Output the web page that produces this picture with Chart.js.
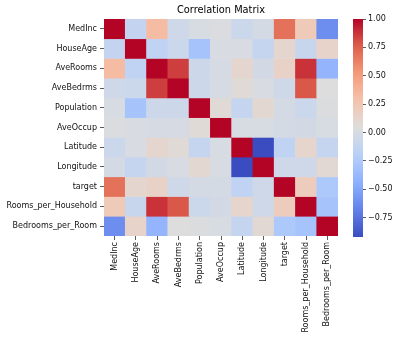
<!DOCTYPE html>
<html>
<head>
<meta charset="utf-8">
<script src="https://cdn.jsdelivr.net/npm/chart.js@4.4.0/dist/chart.umd.min.js"></script>
<style>
    body { margin: 0; background: #fff; font-family: "DejaVu Sans", sans-serif; }
    #wrap { position: relative; width: 400px; height: 341px; overflow: hidden; }
    #title { position: absolute; left: 104px; width: 234px; top: 4px; text-align: center; font-size: 9.8px; line-height: 12px; color: #000; }
    #heatBox { position: absolute; left: 0; top: 0; width: 340px; height: 341px; }
    #barBox { position: absolute; left: 350px; top: 0; width: 50px; height: 341px; }
</style>
</head>
<body>
<div id="wrap">
    <div id="heatBox"><canvas id="heatChart"></canvas></div>
    <div id="barBox"><canvas id="barChart"></canvas></div>
    <div id="title">Correlation Matrix</div>
</div>
<script>
// Features (same order for rows and columns)
const features = ['MedInc', 'HouseAge', 'AveRooms', 'AveBedrms', 'Population', 'AveOccup',
    'Latitude', 'Longitude', 'target', 'Rooms_per_Household', 'Bedrooms_per_Room'];

// Correlation rows
const rowMedInc     = [1.00, -0.12, 0.33, -0.06, 0.00, 0.02, -0.08, -0.02, 0.69, 0.22, -0.62];
const rowHouseAge   = [-0.12, 1.00, -0.15, -0.08, -0.30, 0.01, 0.01, -0.11, 0.11, -0.10, 0.14];
const rowAveRooms   = [0.33, -0.15, 1.00, 0.85, -0.07, -0.01, 0.11, -0.03, 0.15, 0.88, -0.40];
const rowAveBedrms  = [-0.06, -0.08, 0.85, 1.00, -0.07, -0.01, 0.07, 0.01, -0.05, 0.78, 0.04];
const rowPopulation = [0.00, -0.30, -0.07, -0.07, 1.00, 0.07, -0.11, 0.10, -0.02, -0.08, 0.03];
const rowAveOccup   = [0.02, 0.01, -0.01, -0.01, 0.07, 1.00, 0.00, 0.00, -0.02, -0.03, 0.00];
const rowLatitude   = [-0.08, 0.01, 0.11, 0.07, -0.11, 0.00, 1.00, -0.92, -0.14, 0.12, -0.11];
const rowLongitude  = [-0.02, -0.11, -0.03, 0.01, 0.10, 0.00, -0.92, 1.00, -0.05, -0.06, 0.09];
const rowTarget     = [0.69, 0.11, 0.15, -0.05, -0.02, -0.02, -0.14, -0.05, 1.00, 0.20, -0.26];
const rowRoomsHH    = [0.22, -0.10, 0.88, 0.78, -0.08, -0.03, 0.12, -0.06, 0.20, 1.00, -0.30];
const rowBedsRoom   = [-0.62, 0.14, -0.40, 0.04, 0.03, 0.00, -0.11, 0.09, -0.26, -0.30, 1.00];

// Colorbar ticks
const cbarTicks = [-0.75, -0.50, -0.25, 0.00, 0.25, 0.50, 0.75, 1.00];

const matrix = [rowMedInc, rowHouseAge, rowAveRooms, rowAveBedrms, rowPopulation, rowAveOccup,
    rowLatitude, rowLongitude, rowTarget, rowRoomsHH, rowBedsRoom];

const VMIN = Math.min(...matrix.flat());
const VMAX = Math.max(...matrix.flat());

// coolwarm colormap anchors
const coolwarm = [
    [0.000, [59, 76, 192]],
    [0.125, [98, 130, 234]],
    [0.250, [141, 176, 254]],
    [0.375, [184, 208, 249]],
    [0.500, [221, 221, 221]],
    [0.625, [245, 196, 173]],
    [0.750, [244, 154, 123]],
    [0.875, [222, 96, 77]],
    [1.000, [180, 4, 38]]
];

function cmap(t) {
    t = Math.max(0, Math.min(1, t));
    for (let i = 1; i < coolwarm.length; i++) {
        const [t1, c1] = coolwarm[i];
        const [t0, c0] = coolwarm[i - 1];
        if (t <= t1) {
            const f = (t - t0) / (t1 - t0);
            const c = c0.map((v, k) => Math.round(v + (c1[k] - v) * f));
            return `rgb(${c[0]},${c[1]},${c[2]})`;
        }
    }
    return 'rgb(180,4,38)';
}

const colorFor = v => cmap((v - VMIN) / (VMAX - VMIN));

const tickFont = { family: 'DejaVu Sans', size: 8 };
const tickGrid = { drawOnChartArea: false, offset: false, tickLength: 4, color: '#333', lineWidth: 0.8 };

// Heatmap: one floating-bar dataset per row
const heatDatasets = matrix.map((row, r) => ({
    data: row.map(() => [r, r + 1]),
    backgroundColor: row.map(colorFor),
    borderWidth: 0,
    barPercentage: 1,
    categoryPercentage: 1,
    grouped: false
}));

new Chart(document.getElementById('heatChart').getContext('2d'), {
    type: 'bar',
    data: { labels: features, datasets: heatDatasets },
    options: {
        responsive: true,
        maintainAspectRatio: false,
        animation: false,
        layout: { padding: { top: 19, right: 2, left: 0, bottom: 0 } },
        plugins: { legend: { display: false }, tooltip: { enabled: false }, title: { display: false } },
        scales: {
            x: {
                type: 'category',
                offset: true,
                grid: tickGrid,
                border: { display: false },
                ticks: { autoSkip: false, maxRotation: 90, minRotation: 90, font: tickFont, color: '#111', padding: 2 },
                afterFit: s => { s.height = 105; }
            },
            y: {
                type: 'linear',
                min: 0,
                max: features.length,
                reverse: true,
                grid: tickGrid,
                border: { display: false },
                afterBuildTicks: axis => { axis.ticks = features.map((_, i) => ({ value: i + 0.5 })); },
                ticks: { font: tickFont, color: '#111', padding: 3, callback: (v, i) => features[i] },
                afterFit: s => { s.width = 104; }
            }
        }
    }
});

// Colorbar
new Chart(document.getElementById('barChart').getContext('2d'), {
    type: 'bar',
    data: {
        labels: [''],
        datasets: [{
            data: [[VMIN, VMAX]],
            borderWidth: 0,
            barPercentage: 1,
            categoryPercentage: 1,
            backgroundColor: context => {
                const chart = context.chart;
                const area = chart.chartArea;
                if (!area) return null;
                const g = chart.ctx.createLinearGradient(0, area.bottom, 0, area.top);
                for (let i = 0; i <= 20; i++) g.addColorStop(i / 20, cmap(i / 20));
                return g;
            }
        }]
    },
    options: {
        responsive: true,
        maintainAspectRatio: false,
        animation: false,
        layout: { padding: { top: 19, bottom: 104, left: 3, right: 0 } },
        plugins: { legend: { display: false }, tooltip: { enabled: false } },
        scales: {
            x: { display: false },
            y: {
                type: 'linear',
                position: 'right',
                min: VMIN,
                max: VMAX,
                grid: { drawOnChartArea: false, tickLength: 3, color: '#333', lineWidth: 0.8 },
                border: { display: false },
                afterBuildTicks: axis => { axis.ticks = cbarTicks.map(v => ({ value: v })); },
                ticks: {
                    font: tickFont, color: '#111', padding: 2,
                    callback: v => v.toFixed(2).replace('-', '\u2212')
                },
                afterFit: s => { s.width = 37; }
            }
        }
    }
});
</script>
</body>
</html>
